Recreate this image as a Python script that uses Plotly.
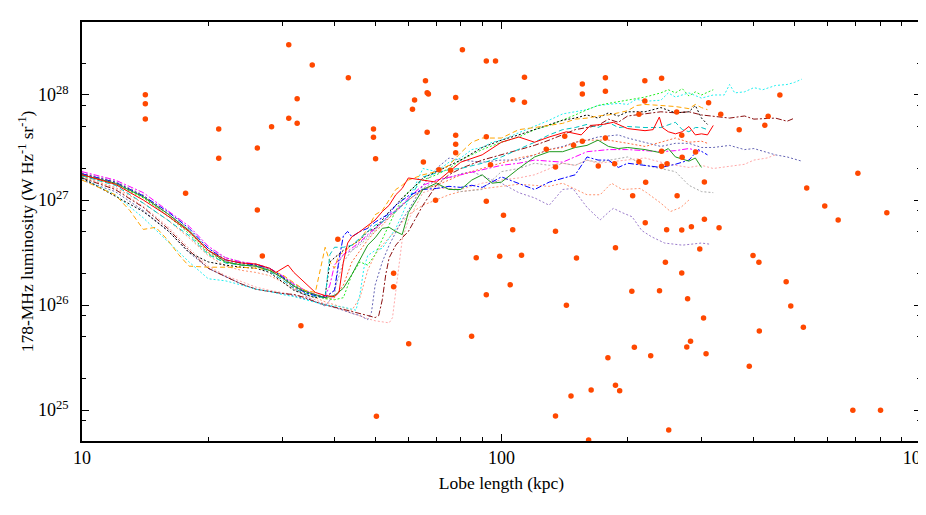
import plotly.graph_objects as go

# Model tracks: (lobe length in kpc, log10 of 178-MHz luminosity in W/Hz/sr)
track_red = [(10, 27.24), (12, 27.15), (14, 27.00), (16, 26.85), (18, 26.70), (20, 26.52), (22, 26.43), (24, 26.40),
             (26, 26.39), (28, 26.35), (29, 26.31), (31, 26.38), (32, 26.31), (34, 26.21), (36, 26.12), (38, 26.09),
             (40, 26.08), (41, 26.12), (42, 26.41), (43, 26.59), (44, 26.65), (46, 26.70), (48, 26.76), (50, 26.81),
             (52, 26.89), (54, 26.95), (56, 27.05), (58, 27.11), (60, 27.21), (65, 27.19), (70, 27.17), (75, 27.27),
             (80, 27.36), (90, 27.43), (100, 27.55), (110, 27.60), (120, 27.55), (130, 27.60), (143, 27.65),
             (155, 27.62), (163, 27.71), (175, 27.72), (185, 27.74), (200, 27.68), (210, 27.67), (220, 27.66),
             (230, 27.67), (238, 27.79), (242, 27.69), (250, 27.65), (260, 27.63), (270, 27.65), (280, 27.70),
             (290, 27.62), (300, 27.63), (310, 27.62), (320, 27.71)]
track_green = [(10, 27.24), (12, 27.16), (14, 27.03), (16, 26.87), (18, 26.71), (20, 26.52), (22, 26.41), (24, 26.38),
               (26, 26.37), (28, 26.33), (30, 26.26), (32, 26.18), (34, 26.13), (36, 26.10), (38, 26.07), (40, 26.09),
               (42, 26.16), (44, 26.29), (46, 26.43), (48, 26.57), (50, 26.64), (52, 26.73), (54, 26.74), (56, 26.70),
               (58, 26.67), (60, 26.88), (65, 27.10), (70, 27.16), (75, 27.10), (80, 27.10), (85, 27.19), (90, 27.24),
               (95, 27.16), (100, 27.17), (110, 27.30), (120, 27.41), (130, 27.46), (140, 27.46), (150, 27.50),
               (160, 27.52), (170, 27.57), (180, 27.51), (190, 27.49), (200, 27.50), (220, 27.48), (240, 27.45),
               (250, 27.49), (260, 27.41), (280, 27.37), (290, 27.40), (300, 27.31)]
track_blue = [(10, 27.25), (12, 27.17), (14, 27.04), (16, 26.89), (18, 26.73), (20, 26.54), (22, 26.43), (24, 26.40),
              (26, 26.38), (28, 26.35), (30, 26.27), (32, 26.18), (34, 26.12), (36, 26.09), (38, 26.07), (40, 26.14),
              (41, 26.43), (42, 26.66), (43, 26.70), (44, 26.65), (46, 26.70), (48, 26.73), (50, 26.79), (52, 26.83),
              (54, 26.87), (56, 26.95), (58, 27.00), (60, 27.04), (65, 27.10), (70, 27.11), (75, 27.13), (80, 27.12),
              (85, 27.14), (90, 27.12), (100, 27.22), (110, 27.16), (120, 27.10), (130, 27.17), (140, 27.21),
              (150, 27.24), (160, 27.41), (170, 27.38), (180, 27.38), (190, 27.31), (200, 27.35), (220, 27.33),
              (240, 27.31), (260, 27.34), (280, 27.38), (295, 27.48), (310, 27.43)]
track_magenta = [(10, 27.27), (12, 27.19), (14, 27.07), (16, 26.90), (18, 26.75), (20, 26.56), (22, 26.45),
                 (24, 26.41), (26, 26.39), (28, 26.35), (30, 26.28), (32, 26.20), (34, 26.14), (36, 26.10),
                 (38, 26.08), (39, 26.19), (40, 26.38), (42, 26.48), (44, 26.54), (46, 26.60), (48, 26.67),
                 (50, 26.73), (52, 26.79), (54, 26.86), (56, 26.90), (58, 26.95), (60, 27.02), (65, 27.14),
                 (70, 27.19), (80, 27.24), (90, 27.29), (100, 27.33), (110, 27.35), (120, 27.38), (140, 27.36),
                 (160, 27.46), (180, 27.48), (200, 27.48), (220, 27.47), (240, 27.46), (260, 27.47), (280, 27.49),
                 (300, 27.46)]
track_cyan = [(10, 27.21), (12, 27.05), (14, 26.83), (16, 26.61), (18, 26.41), (20, 26.25), (22, 26.23), (24, 26.19),
              (26, 26.15), (28, 26.13), (30, 26.10), (32, 26.08), (34, 26.05), (36, 26.02), (38, 26.00), (40, 25.99),
              (42, 25.98), (44, 25.96), (45, 25.95), (46, 26.10), (47, 26.35), (48, 26.47), (50, 26.52), (52, 26.54),
              (54, 26.64), (56, 26.73), (58, 26.86), (60, 27.00), (65, 27.30), (70, 27.27), (75, 27.36), (80, 27.40),
              (85, 27.48), (90, 27.50), (95, 27.55), (100, 27.57), (110, 27.64), (120, 27.70), (130, 27.76),
              (140, 27.82), (150, 27.84), (160, 27.86), (170, 27.90), (180, 27.91), (190, 27.92), (200, 27.91),
              (210, 27.96), (220, 27.94), (240, 27.95), (250, 28.02), (260, 27.98), (280, 28.02), (300, 27.97),
              (320, 28.00), (340, 28.00), (350, 28.10), (360, 28.02), (380, 28.03), (400, 28.07), (420, 28.05),
              (450, 28.09), (480, 28.10), (500, 28.12), (520, 28.15)]
track_teal = [(10, 27.23), (12, 27.14), (14, 26.97), (16, 26.81), (18, 26.66), (20, 26.48), (22, 26.40), (24, 26.38),
              (26, 26.37), (28, 26.32), (30, 26.24), (32, 26.16), (34, 26.11), (36, 26.08), (38, 26.07), (39, 26.48),
              (40, 26.55), (42, 26.55), (44, 26.57), (46, 26.64), (48, 26.70), (50, 26.76), (52, 26.79), (54, 26.86),
              (56, 26.89), (58, 26.95), (60, 27.00), (65, 27.22), (70, 27.26), (75, 27.29), (80, 27.30), (90, 27.35),
              (100, 27.41), (110, 27.48), (120, 27.55), (130, 27.62), (140, 27.67), (150, 27.69), (160, 27.72),
              (170, 27.69), (180, 27.74), (190, 27.69), (200, 27.70), (220, 27.69), (240, 27.69), (260, 27.74),
              (270, 27.67), (280, 27.65), (290, 27.69), (300, 27.69), (310, 27.67)]
track_orange = [(10, 27.19), (12, 27.05), (13, 26.90), (14, 26.72), (15, 26.74), (16, 26.62), (17, 26.48),
                (18, 26.37), (20, 26.36), (22, 26.36), (24, 26.36), (26, 26.35), (28, 26.33), (30, 26.29),
                (32, 26.21), (34, 26.14), (36, 26.12), (37, 26.33), (38, 26.55), (39, 26.41), (40, 26.35),
                (41, 26.48), (42, 26.50), (44, 26.57), (46, 26.62), (48, 26.73), (50, 26.86), (52, 26.90),
                (54, 27.00), (56, 27.10), (58, 27.14), (60, 27.19), (65, 27.24), (70, 27.27), (75, 27.33),
                (80, 27.45), (85, 27.55), (90, 27.59), (100, 27.59), (110, 27.67), (120, 27.69), (130, 27.71),
                (140, 27.73), (150, 27.77), (160, 27.78), (170, 27.80), (180, 27.81), (190, 27.83), (200, 27.85),
                (210, 27.90), (220, 27.91), (240, 27.90), (260, 27.89), (280, 27.87), (290, 27.91), (300, 27.88),
                (310, 27.86)]
track_black = [(10, 27.21), (12, 27.04), (14, 26.89), (16, 26.71), (18, 26.50), (20, 26.41), (22, 26.38), (24, 26.36),
               (26, 26.35), (28, 26.31), (30, 26.22), (32, 26.14), (34, 26.10), (36, 26.07), (38, 26.09), (39, 26.41),
               (40, 26.45), (42, 26.52), (44, 26.57), (46, 26.62), (48, 26.70), (50, 26.73), (52, 26.81), (54, 26.89),
               (56, 26.95), (58, 27.02), (60, 27.07), (65, 27.21), (70, 27.27), (75, 27.33), (80, 27.38), (90, 27.50),
               (100, 27.57), (110, 27.62), (120, 27.67), (130, 27.71), (140, 27.76), (150, 27.78), (160, 27.81),
               (170, 27.78), (180, 27.83), (190, 27.80), (200, 27.84), (220, 27.84), (240, 27.88), (260, 27.83),
               (280, 27.84), (290, 27.90), (300, 27.78), (310, 27.72)]
track_grey = [(10, 27.26), (12, 27.18), (14, 27.05), (16, 26.84), (17, 26.82), (18, 26.70), (20, 26.54), (22, 26.45),
              (24, 26.41), (26, 26.38), (28, 26.35), (30, 26.28), (32, 26.20), (34, 26.14), (36, 26.10), (38, 26.08),
              (40, 26.14), (42, 26.41), (44, 26.52), (46, 26.57), (48, 26.64), (50, 26.71), (52, 26.79), (54, 26.83),
              (56, 26.90), (58, 26.95), (60, 27.00), (65, 27.10), (70, 27.14), (75, 27.11), (80, 27.08), (90, 27.10),
              (100, 27.27), (110, 27.30), (120, 27.35), (130, 27.33), (140, 27.35), (150, 27.33), (160, 27.38),
              (170, 27.36), (180, 27.38), (200, 27.41), (220, 27.33), (240, 27.30), (260, 27.27), (280, 27.14),
              (300, 27.08), (320, 27.07)]
track_brown = [(10, 27.21), (12, 27.10), (14, 26.93), (16, 26.73), (18, 26.52), (20, 26.35), (22, 26.27), (24, 26.20),
               (26, 26.15), (28, 26.13), (30, 26.11), (32, 26.10), (34, 26.07), (36, 26.03), (38, 26.00), (40, 25.98),
               (42, 25.96), (44, 25.94), (46, 25.92), (48, 25.90), (50, 25.88), (51, 25.90), (52, 26.05), (53, 26.29),
               (54, 26.45), (56, 26.57), (58, 26.64), (60, 26.70), (65, 26.95), (70, 27.14), (75, 27.24), (80, 27.30),
               (90, 27.38), (100, 27.43), (110, 27.48), (120, 27.52), (130, 27.57), (140, 27.62), (150, 27.67),
               (160, 27.69), (170, 27.71), (180, 27.77), (190, 27.74), (200, 27.80), (220, 27.82), (240, 27.84),
               (260, 27.83), (280, 27.84), (300, 27.81), (320, 27.80), (350, 27.78), (380, 27.80), (400, 27.77),
               (450, 27.78), (480, 27.75), (500, 27.78)]
track_slate = [(10, 27.19), (12, 27.08), (14, 26.90), (16, 26.71), (18, 26.50), (20, 26.35), (22, 26.27), (24, 26.20),
               (26, 26.15), (28, 26.13), (30, 26.11), (32, 26.09), (34, 26.06), (36, 26.03), (38, 26.00), (40, 25.98),
               (42, 25.95), (44, 25.92), (46, 25.90), (48, 25.86), (49, 25.93), (50, 26.19), (52, 26.41), (54, 26.57),
               (56, 26.70), (58, 26.81), (60, 26.90), (65, 27.14), (70, 27.30), (75, 27.40), (80, 27.38), (90, 27.36),
               (100, 27.38), (110, 27.38), (120, 27.43), (130, 27.48), (140, 27.51), (150, 27.55), (160, 27.57),
               (170, 27.60), (180, 27.61), (190, 27.62), (200, 27.59), (220, 27.55), (240, 27.51), (260, 27.54),
               (280, 27.54), (300, 27.50), (320, 27.50), (350, 27.52), (380, 27.48), (400, 27.49), (450, 27.43),
               (480, 27.41), (500, 27.39), (520, 27.37)]
track_pink = [(10, 27.22), (12, 27.11), (14, 26.94), (16, 26.75), (18, 26.54), (20, 26.37), (22, 26.28), (24, 26.22),
              (26, 26.17), (28, 26.14), (30, 26.12), (32, 26.10), (34, 26.08), (36, 26.05), (38, 26.01), (40, 25.98),
              (42, 25.95), (44, 25.92), (46, 25.90), (48, 25.87), (50, 25.85), (52, 25.84), (54, 25.83), (55, 25.88),
              (56, 26.14), (57, 26.41), (58, 26.62), (60, 26.81), (65, 27.07), (70, 27.11), (75, 27.11), (80, 27.10),
              (90, 27.16), (100, 27.19), (110, 27.21), (120, 27.24), (130, 27.30), (140, 27.35), (150, 27.33),
              (160, 27.38), (170, 27.35), (180, 27.36), (200, 27.38), (220, 27.40), (240, 27.36), (260, 27.33),
              (280, 27.31), (300, 27.33), (320, 27.30), (350, 27.32), (380, 27.34), (400, 27.38), (430, 27.40),
              (450, 27.43)]
track_lime = [(10, 27.23), (12, 27.15), (14, 27.02), (16, 26.85), (18, 26.68), (20, 26.49), (22, 26.40), (24, 26.39),
              (26, 26.39), (28, 26.35), (30, 26.27), (32, 26.19), (34, 26.13), (36, 26.09), (38, 26.06), (40, 26.05),
              (42, 26.07), (44, 26.29), (46, 26.41), (48, 26.38), (50, 26.48), (52, 26.62), (54, 26.76), (56, 26.90),
              (58, 27.00), (60, 27.08), (65, 27.19), (70, 27.24), (75, 27.30), (80, 27.38), (90, 27.48), (100, 27.55),
              (110, 27.60), (120, 27.67), (130, 27.71), (140, 27.76), (150, 27.81), (160, 27.86), (170, 27.90),
              (180, 27.92), (200, 27.95), (220, 27.98), (240, 28.02), (250, 28.05), (260, 28.02), (270, 28.06),
              (280, 27.99), (290, 28.03), (300, 28.00), (320, 28.05)]
track_coral = [(10, 27.25), (12, 27.17), (14, 27.04), (16, 26.87), (18, 26.70), (20, 26.50), (22, 26.41), (24, 26.38),
               (26, 26.37), (28, 26.33), (30, 26.26), (32, 26.17), (34, 26.12), (36, 26.09), (38, 26.06), (40, 26.07),
               (42, 26.19), (44, 26.41), (46, 26.52), (48, 26.62), (50, 26.70), (52, 26.76), (54, 26.83), (56, 26.89),
               (58, 26.95), (60, 27.00), (65, 27.10), (70, 27.14), (75, 27.19), (80, 27.24), (90, 27.30), (100, 27.35),
               (110, 27.40), (120, 27.43), (130, 27.48), (140, 27.50), (150, 27.55), (160, 27.57), (180, 27.57),
               (200, 27.54), (220, 27.51), (240, 27.55), (260, 27.59), (280, 27.55), (300, 27.56), (310, 27.54)]
track_salmon = [(10, 27.22), (12, 27.12), (14, 26.97), (16, 26.81), (18, 26.64), (20, 26.47), (22, 26.37),
                (24, 26.33), (26, 26.31), (28, 26.28), (30, 26.22), (32, 26.15), (34, 26.10), (36, 26.07),
                (38, 26.03), (40, 26.00), (42, 25.97), (44, 25.95), (46, 26.07), (48, 26.33), (50, 26.48),
                (52, 26.57), (54, 26.64), (56, 26.71), (58, 26.79), (60, 26.86), (65, 26.95), (70, 27.00),
                (75, 27.05), (80, 27.08), (90, 27.11), (100, 27.13), (110, 27.15), (120, 27.14), (130, 27.13),
                (140, 27.16), (160, 27.05), (172, 27.05), (183, 27.16), (194, 27.10), (214, 27.11), (222, 27.07),
                (240, 26.97), (253, 26.89), (268, 26.93), (280, 27.00)]
track_purple = [(10, 27.25), (12, 27.16), (14, 27.03), (16, 26.87), (18, 26.70), (20, 26.52), (22, 26.42),
                (24, 26.39), (26, 26.38), (28, 26.34), (30, 26.26), (32, 26.16), (34, 26.09), (36, 26.03),
                (38, 25.99), (40, 26.10), (41, 26.41), (42, 26.48), (44, 26.52), (46, 26.59), (48, 26.66),
                (50, 26.73), (52, 26.79), (54, 26.85), (56, 26.90), (58, 26.96), (60, 27.00), (65, 27.11),
                (70, 27.19), (75, 27.21), (80, 27.25), (85, 27.27), (90, 27.23), (95, 27.19), (100, 27.16),
                (110, 27.07), (120, 27.02), (130, 26.95), (140, 27.10), (148, 27.11), (160, 26.93), (172, 26.81),
                (182, 26.90), (185, 26.92), (194, 26.88), (205, 26.84), (216, 26.71), (228, 26.65), (245, 26.59),
                (270, 26.57), (300, 26.59), (313, 26.58)]

# Observed sources: (log10 lobe length in kpc, log10 178-MHz luminosity)
sources = [
    (1.151, 28.003), (1.151, 27.917), (1.151, 27.771), (1.326, 27.676), (1.326, 27.397), (1.418, 27.495),
    (1.452, 27.698), (1.493, 28.479), (1.493, 27.778), (1.513, 27.965), (1.513, 27.730), (1.549, 28.286),
    (1.635, 28.165), (1.695, 27.676), (1.695, 27.597), (1.700, 27.393), (1.788, 27.864), (1.793, 27.952),
    (1.819, 28.136), (1.823, 28.022), (1.826, 28.010), (1.823, 27.645), (1.814, 27.362), (1.851, 27.289),
    (1.879, 27.283), (1.891, 27.976), (1.891, 27.616), (1.891, 27.530), (1.891, 27.450), (1.907, 28.431),
    (1.964, 28.324), (1.986, 28.324), (1.964, 27.603), (1.974, 27.336), (2.027, 27.955), (2.055, 28.169),
    (2.055, 27.930), (2.193, 28.105), (2.193, 28.010), (2.248, 28.165), (2.248, 28.035), (2.248, 27.590),
    (2.342, 28.136), (2.342, 27.943), (2.382, 28.159), (2.494, 27.927), (2.664, 28.000), (2.418, 27.838),
    (2.328, 27.816), (2.523, 27.816), (2.567, 27.670), (2.628, 27.711), (2.636, 27.797), (2.151, 27.607),
    (2.107, 27.483), (2.172, 27.521), (2.193, 27.559), (2.430, 27.616), (2.382, 27.464), (2.463, 27.457),
    (2.231, 27.324), (2.129, 27.314), (2.270, 27.346), (2.328, 27.365), (2.382, 27.321), (2.395, 27.346),
    (2.431, 27.408), (2.344, 27.169), (2.313, 27.041), (2.419, 27.041), (2.484, 27.171), (2.728, 27.114),
    (2.343, 26.784), (2.394, 26.717), (2.430, 26.714), (2.453, 26.746), (2.484, 26.816), (2.519, 26.736),
    (2.272, 26.546), (2.473, 26.533), (2.600, 26.471), (2.179, 26.448), (2.850, 27.254), (2.771, 26.943),
    (2.803, 26.810), (2.919, 26.879), (2.614, 26.407), (2.391, 26.407), (2.430, 26.305), (2.311, 26.130),
    (2.377, 26.136), (2.444, 26.060), (2.482, 25.876), (2.615, 25.752), (2.679, 26.222), (2.690, 25.990),
    (2.720, 25.788), (2.254, 25.498), (2.317, 25.597), (2.356, 25.517), (2.442, 25.600), (2.451, 25.654),
    (2.488, 25.536), (2.591, 25.416), (2.272, 25.235), (2.282, 25.184), (2.838, 24.997), (2.904, 24.997),
    (2.399, 24.810), (1.940, 26.450), (1.996, 26.464), (2.048, 26.473), (2.021, 26.193), (1.964, 26.098),
    (2.155, 25.997), (1.743, 26.302), (1.743, 26.174), (1.522, 25.803), (1.779, 25.631), (1.929, 25.702),
    (2.166, 25.133), (2.214, 25.190), (2.129, 24.943), (1.702, 24.940), (2.208, 24.714), (1.843, 26.997),
    (1.964, 26.988), (2.005, 26.854), (2.027, 26.717), (2.129, 26.702), (1.610, 26.626), (1.247, 27.064),
    (1.418, 26.905), (1.430, 26.467),
]

x_major = [10, 100, 1000]
x_major_text = ["10", "100", "1000"]
x_minor = [20, 30, 40, 50, 60, 70, 80, 90, 200, 300, 400, 500, 600, 700, 800, 900]
y_major = [1e25, 1e26, 1e27, 1e28]
y_major_text = ["10<sup>25</sup>", "10<sup>26</sup>", "10<sup>27</sup>", "10<sup>28</sup>"]
y_minor = [8e24, 2e25, 5e25, 8e25, 2e26, 5e26, 8e26, 2e27, 5e27, 8e27, 2e28]

DOT = "2px,2px"
DASH = "5px,3px"
DASHDOT = "6px,2px,2px,2px"

tracks = [
    (track_pink, "#ffa8a8", DOT),
    (track_salmon, "#ff9470", DOT),
    (track_purple, "#9a7acb", DOT),
    (track_slate, "#6464b4", DOT),
    (track_brown, "#8b1010", DASHDOT),
    (track_grey, "#a8a8a8", DOT),
    (track_cyan, "#22f0f0", DOT),
    (track_coral, "#ff6a3a", DOT),
    (track_lime, "#22ee22", DOT),
    (track_magenta, "#ff00ff", DASHDOT),
    (track_black, "#000000", DOT),
    (track_orange, "#ffa500", DASH),
    (track_teal, "#00c4c4", DASH),
    (track_blue, "#0000ff", DASHDOT),
    (track_green, "#1f9a1f", "solid"),
    (track_red, "#ff0000", "solid"),
]

fig = go.Figure()
for pts, color, dash in tracks:
    fig.add_trace(
        go.Scatter(
            x=[p[0] for p in pts],
            y=[10 ** p[1] for p in pts],
            mode="lines",
            line={"color": color, "width": 1, "dash": dash},
            hoverinfo="skip",
        )
    )

fig.add_trace(
    go.Scatter(
        x=[10 ** s[0] for s in sources],
        y=[10 ** s[1] for s in sources],
        mode="markers",
        marker={"color": "#ff4800", "size": 5.5, "line": {"width": 0}},
        hoverinfo="skip",
    )
)

serif = "Liberation Serif"
axis_style = dict(
    type="log",
    automargin=False,
    showline=True,
    linecolor="black",
    linewidth=1.5,
    mirror="ticks",
    ticks="inside",
    ticklen=7,
    tickwidth=1.2,
    tickcolor="black",
    showgrid=False,
    zeroline=False,
    ticklabeloverflow="allow",
    tickfont={"family": serif, "size": 18, "color": "black"},
)

fig.update_xaxes(
    **axis_style,
    range=[1, 3.0005],
    tickvals=x_major,
    ticktext=x_major_text,
    minor={"tickvals": x_minor, "ticks": "inside", "ticklen": 4, "tickcolor": "black", "tickwidth": 1},
    title={"text": "Lobe length (kpc)", "font": {"family": serif, "size": 17.5, "color": "black"}, "standoff": 9},
)
fig.update_yaxes(
    **axis_style,
    range=[24.705, 28.695],
    tickvals=y_major,
    ticktext=y_major_text,
    ticklabelstandoff=8,
    minor={"tickvals": y_minor, "ticks": "inside", "ticklen": 4, "tickcolor": "black", "tickwidth": 1},
    title={
        "text": "178-MHz luminosity (W Hz<sup>-1</sup> sr<sup>-1</sup>)",
        "font": {"family": serif, "size": 17.5, "color": "black"},
        "standoff": 0,
    },
)
# the page body adds an 8 px margin, so the figure is a little smaller and offset
fig.update_layout(
    width=918,
    height=499,
    margin={"l": 74, "r": 5, "t": 14, "b": 66},
    paper_bgcolor="white",
    plot_bgcolor="white",
    showlegend=False,
)

fig.write_html("out.html", config={"displayModeBar": False})
